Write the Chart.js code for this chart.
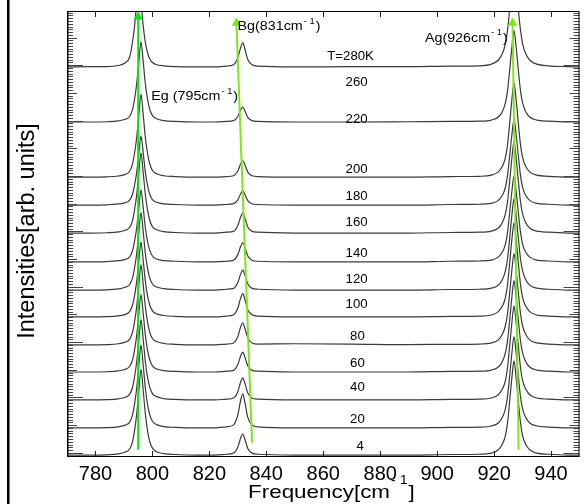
<!DOCTYPE html>
<html>
<head>
<meta charset="utf-8">
<script src="https://cdn.jsdelivr.net/npm/chart.js@4.4.0/dist/chart.umd.min.js"></script>
<style>
  html, body { margin: 0; background: #fff; }
  canvas { display: block; }
</style>
</head>
<body>
<canvas id="ramanChart" width="585" height="504"></canvas>
<script>
const FONT = '"Liberation Sans", Arial, sans-serif';

// frequency grid (cm-1) shared by all spectra
const freq = [770, 778,
  784, 788, 790.5, 792, 793, 793.75, 794.5, 795.25, 796, 796.75, 797.5, 798.25, 799, 800, 801.5, 804, 808,
  816, 822,
  826, 828.5, 830, 831, 831.75, 832.5, 833.5, 835, 837,
  850, 870, 890, 905,
  915, 919, 921.5, 923, 924, 924.75, 925.5, 926.25, 927, 927.75, 928.5, 929.25, 930, 931, 932.5, 935, 939,
  946, 950];

// temperatures and vertical offsets of each spectrum
const temps = ['280', '220', '200', '180', '160', '140', '120', '100', '80', '60', '40', '20', '4'];
const offsets = [139.4, 119.5, 99.6, 89.5, 79.4, 69.0, 58.8, 49.1, 39.0, 29.2, 19.1, 9.0, -0.8];

// intensities above each offset
const i280 = [0,0.1, 0.1,0.5,1.5,3.6,9,15,23.5,31,23.5,15,9,5.3,3,1.6,0.8,0.4,0.1, 0,0, 0.3,0.8,3.3,7,8.7,6.4,2.7,0.8,0.3, 0,0.1,0.1,0.3, 0.4,1,2.5,5,8.5,13.5,21,29,35,29,21,13.5,8.5,5,2.5,1,0.4, 0.1,0];
const i220 = [0,0, 0.1,0.4,1,2,4.5,8.5,14,22,29,22,14,8.5,4.8,2.3,1.2,0.5,0.2, 0,0, 0.2,0.5,2,4.4,5.4,4,1.7,0.5,0.2, 0,0,0.1,0.2, 0.3,0.7,1.8,4,7,11.5,19,27,33,27,19,11.5,7,4,1.8,0.7,0.3, 0,0];
const i200 = [0,0, 0.1,0.4,1,2.1,4.7,8.8,14.5,22.8,30,22.8,14.5,8.8,5,2.4,1.2,0.5,0.2, 0,0, 0.2,0.5,2.2,4.8,5.9,4.4,1.8,0.5,0.2, 0,0,0,0.2, 0.3,0.7,1.9,4.1,7.1,11.9,19.7,27.9,34,27.9,19.7,11.9,7.1,4.1,1.9,0.7,0.3, 0,0];
const i180 = [0,0, 0.1,0.4,0.9,1.8,3.9,7.3,12,19,25,19,12,7.3,4.1,2,1,0.4,0.2, 0,0, 0.2,0.5,1.9,4.1,5.1,3.8,1.6,0.5,0.2, 0,0,0,0.2, 0.3,0.6,1.7,3.7,6.5,10.9,18,25.4,31,25.4,18,10.9,6.5,3.7,1.7,0.6,0.3, 0,0];
const i160 = [0,0, 0.1,0.4,1,2,4.5,8.5,14,22,29,22,14,8.5,4.8,2.3,1.2,0.5,0.2, 0,0, 0.3,0.6,2.7,5.8,7.2,5.3,2.2,0.6,0.3, 0,0,0,0.2, 0.3,0.7,1.8,4,7,11.5,19,27,33,27,19,11.5,7,4,1.8,0.7,0.3, 0,0];
const i140 = [0,0, 0.1,0.4,0.9,1.8,4,7.6,12.5,19.8,26,19.8,12.5,7.6,4.3,2.1,1,0.4,0.2, 0,0, 0.2,0.6,2.6,5.6,6.9,5.1,2.1,0.6,0.2, 0,0,0,0.2, 0.3,0.6,1.7,3.7,6.5,10.9,18,25.4,31,25.4,18,10.9,6.5,3.7,1.7,0.6,0.3, 0,0];
const i120 = [0,0, 0.1,0.4,1,2,4.3,8.1,13.4,21.3,28,21.3,13.4,8.1,4.6,2.2,1.1,0.5,0.2, 0,0, 0.3,0.6,2.7,5.8,7.2,5.3,2.2,0.6,0.3, 0,0,0,0.2, 0.3,0.7,1.8,4,7,11.5,19,27,33,27,19,11.5,7,4,1.8,0.7,0.3, 0,0];
const i100 = [0,0, 0.1,0.4,0.9,1.9,4.2,7.8,13,20.5,27,20.5,13,7.8,4.5,2.2,1.1,0.5,0.2, 0,0, 0.3,0.8,3.2,6.8,8.4,6.2,2.6,0.8,0.3, 0,0,0,0.2, 0.3,0.7,1.9,4.1,7.1,11.9,19.7,27.9,34,27.9,19.7,11.9,7.1,4.1,1.9,0.7,0.3, 0,0];
const i80  = [0,0, 0.1,0.4,1,2,4.5,8.5,14,22,29,22,14,8.5,4.8,2.3,1.2,0.5,0.2, 0,0, 0.3,0.7,3,6.5,8,5.9,2.5,0.7,0.3, 0.4,0.3,0.1,0.2, 0.3,0.7,1.8,4,7,11.5,19,27,33,27,19,11.5,7,4,1.8,0.7,0.3, 0,0];
const i60  = [0,0, 0.1,0.4,1,2,4.3,8.1,13.4,21.3,28,21.3,13.4,8.1,4.6,2.2,1.1,0.5,0.2, 0,0, 0.3,0.6,2.7,5.8,7.2,5.3,2.2,0.6,0.3, 0,0,0,0.2, 0.3,0.7,1.8,4,7,11.5,19,27,33,27,19,11.5,7,4,1.8,0.7,0.3, 0,0];
const i40  = [0,0, 0.1,0.4,1,2,4.5,8.5,14,22,29,22,14,8.5,4.8,2.3,1.2,0.5,0.2, 0,0, 0.3,0.7,3,6.5,8,5.9,2.5,0.7,0.3, 0,0,0,0.2, 0.3,0.7,1.9,4.1,7.1,11.9,19.7,27.9,34,27.9,19.7,11.9,7.1,4.1,1.9,0.7,0.3, 0,0];
const i20  = [0,0, 0.1,0.4,1,2.1,4.7,8.8,14.5,22.8,30,22.8,14.5,8.8,5,2.4,1.2,0.5,0.2, 0,0, 0.4,1.1,4.7,10,12.3,9.1,3.8,1.1,0.4, 0,0,0,0.2, 0.3,0.7,1.8,4,7,11.5,19,27,33,27,19,11.5,7,4,1.8,0.7,0.3, 0,0];
const i4   = [0,0, 0.1,0.4,1.1,2.2,4.8,9,15,23.5,31,23.5,15,9,5.1,2.5,1.2,0.5,0.2, 0,0, 0.3,0.7,2.9,6.2,7.6,5.6,2.4,0.7,0.3, 0,0,0,0.2, 0.3,0.7,1.9,4.1,7.1,11.9,19.7,27.9,34,27.9,19.7,11.9,7.1,4.1,1.9,0.7,0.3, 0,0];
const spectra = [i280, i220, i200, i180, i160, i140, i120, i100, i80, i60, i40, i20, i4];

// guide arrows for the three modes (start, end)
const arrowX = [[795, 795], [835, 829.5], [928.6, 926.5]];
const arrowY = [[1.1, 157.4], [3.6, 155.3], [1.1, 155.3]];
const arrowColors = ['#12e012', '#80e41e', '#80e41e'];

// text annotations
const tLabels = ['T=280K', '260', '220', '200', '180', '160', '140', '120', '100', '80', '60', '40', '20', '4'];
const tLabelX = [869.6, 871.7, 871.7, 871.7, 871.7, 871.7, 871.7, 871.7, 871.7, 872, 872, 872, 872, 873];
const tLabelY = [143.0, 133.6, 120.2, 102.2, 92.4, 83.0, 71.8, 62.4, 53.4, 41.8, 32.1, 23.4, 11.9, 2.1];
const peakNames = ['Eg (795cm', 'Bg(831cm', 'Ag(926cm'];
const peakX = [799.6, 829.9, 895.7];
const peakY = [128.7, 154.0, 149.8];

const xTicks = [780, 800, 820, 840, 860, 880, 900, 920, 940];
const yMinorStep = 1, yMidStep = 10, yMajorStep = 20;

var datasets = [];
arrowX.forEach(function(ax, k) {
  datasets.push({
    data: [{x: ax[0], y: arrowY[k][0]}, {x: ax[1], y: arrowY[k][1]}],
    borderColor: arrowColors[k],
    backgroundColor: arrowColors[k],
    borderWidth: 2,
    pointRadius: [0, 5.5],
    pointStyle: 'triangle',
    pointRotation: k === 1 ? -2 : 0,
    pointBorderWidth: 0,
    order: 0
  });
});
spectra.forEach(function(s, k) {
  datasets.push({
    label: temps[k],
    data: freq.map(function(f, j) { return {x: f, y: offsets[k] + s[j]}; }),
    borderColor: '#3a3a3a',
    borderWidth: 1.2,
    pointRadius: 0,
    cubicInterpolationMode: 'monotone',
    fill: false,
    order: 1
  });
});

function stretchText(ctx, s, x, y, size, sx, align) {
  ctx.save();
  ctx.translate(x, y);
  ctx.scale(sx, 1);
  ctx.font = size + 'px ' + FONT;
  ctx.textAlign = align || 'left';
  ctx.textBaseline = 'middle';
  ctx.fillText(s, 0, 0);
  var w = ctx.measureText(s).width * sx;
  ctx.restore();
  return w;
}

// writes base + superscript "-1" + tail, left aligned
function withSup(ctx, base, tail, x, y, size, supSize, sx, rise) {
  var w = stretchText(ctx, base, x, y, size, sx);
  var w2 = stretchText(ctx, '- 1', x + w + 1, y - rise, supSize, sx);
  stretchText(ctx, tail, x + w + w2 + 2, y, size, sx);
}

const decor = {
  id: 'decor',
  afterDatasetsDraw(chart) {
    const ctx = chart.ctx, a = chart.chartArea;
    const x = chart.scales.x, y = chart.scales.y;
    ctx.save();
    ctx.strokeStyle = '#222';
    ctx.lineWidth = 1;
    ctx.beginPath();
    x.ticks.forEach(function(t) {
      var px = Math.round(x.getPixelForValue(t.value)) + 0.5;
      ctx.moveTo(px, a.top); ctx.lineTo(px, a.top + 6);
      ctx.moveTo(px, a.bottom); ctx.lineTo(px, a.bottom - 6);
    });
    ctx.stroke();
    // dense comb of ticks on both vertical axes
    ctx.strokeStyle = '#444';
    ctx.beginPath();
    for (var v = Math.ceil(y.min); v <= y.max; v += yMinorStep) {
      var len = v % yMajorStep === 0 ? 16 : (v % yMidStep === 0 ? 10 : 6);
      var py = Math.round(y.getPixelForValue(v)) + 0.5;
      ctx.moveTo(a.left, py); ctx.lineTo(a.left + len, py);
      ctx.moveTo(a.right, py); ctx.lineTo(a.right - len, py);
    }
    ctx.stroke();
    // frame
    ctx.strokeStyle = '#000';
    ctx.strokeRect(a.left + 0.5, a.top + 0.5, a.width - 1, a.height - 1);
    ctx.fillStyle = '#000';
    ctx.fillRect(a.left, a.top, 1.5, a.height);

    // temperature labels
    tLabels.forEach(function(s, k) {
      stretchText(ctx, s, x.getPixelForValue(tLabelX[k]), y.getPixelForValue(tLabelY[k]), 12, 1.1, 'center');
    });
    // mode labels
    peakNames.forEach(function(s, k) {
      withSup(ctx, s, ')', x.getPixelForValue(peakX[k]), y.getPixelForValue(peakY[k]), 13, 8.5, 1.1, 5);
    });

    // axis titles
    withSup(ctx, 'Frequency[cm', ']', 248, 493, 19, 12, 1.18, 12);
    ctx.save();
    ctx.translate(28, 231);
    ctx.rotate(-Math.PI / 2);
    ctx.font = '23.5px ' + FONT;
    ctx.textAlign = 'center';
    ctx.textBaseline = 'middle';
    ctx.fillText('Intensities[arb. units]', 0, 0);
    ctx.restore();

    // left edge of the figure frame
    ctx.fillRect(7, 0, 2.5, 504);
    ctx.restore();
  }
};

new Chart(document.getElementById('ramanChart'), {
  type: 'line',
  data: { datasets: datasets },
  options: {
    responsive: false,
    animation: false,
    devicePixelRatio: 1,
    layout: { padding: { top: 11, right: 1, left: 0, bottom: 0 } },
    plugins: { legend: { display: false }, tooltip: { enabled: false } },
    scales: {
      x: {
        type: 'linear',
        min: 770,
        max: 950,
        afterBuildTicks: function(s) { s.ticks = xTicks.map(function(v) { return {value: v}; }); },
        afterFit: function(s) { s.height = 47; },
        grid: { display: false, drawTicks: false },
        border: { display: false },
        ticks: { color: '#000', font: { family: FONT, size: 20 }, padding: 5, maxRotation: 0, autoSkip: false }
      },
      y: {
        type: 'linear',
        min: -1.5,
        max: 159.6,
        afterFit: function(s) { s.width = 67; },
        grid: { display: false, drawTicks: false },
        border: { display: false },
        ticks: { display: false }
      }
    }
  },
  plugins: [decor]
});
</script>
</body>
</html>
